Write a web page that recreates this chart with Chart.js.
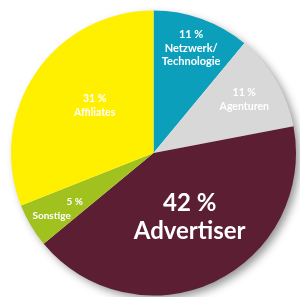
<!DOCTYPE html>
<html>
<head>
<meta charset="utf-8">
<script src="https://cdn.jsdelivr.net/npm/chart.js@4"></script>
<style>
    html, body { margin: 0; padding: 0; background: #ffffff; }
    #wrap { width: 300px; height: 297px; }
</style>
</head>
<body>
<div id="wrap"><canvas id="pie"></canvas></div>
<script>
// data
const segments = ["Netzwerk/Technologie", "Agenturen", "Advertiser", "Sonstige", "Affiliates"];
const shares = [11, 11, 42, 5, 31];
const nameLines = [["Netzwerk/", "Technologie"], ["Agenturen"], ["Advertiser"], ["Sonstige"], ["Affiliates"]];

// styling
const colors = ["#0c9fbb", "#d8d8d8", "#5b1e32", "#a1c11e", "#fff000"];
const labelDist = [0.78, 0.74, 0.52, 0.79, 0.53];
const labelTurn = [0, 0, -4, 1, 4.6];   // degrees, nudges the label off the slice middle
const labelSize = [11, 10.5, 24, 10, 10.5];
const lineGap = [13.5, 14, 28, 14, 13.5];
const lineDx = [[0, 0, 0], [0, 0], [0, 0], [19, -4], [0, 0]];

// shadow under the whole pie
const pieShadow = {
    id: "pieShadow",
    beforeDatasetsDraw(chart) {
        const arc = chart.getDatasetMeta(0).data[0];
        if (!arc) return;
        const ctx = chart.ctx;
        ctx.save();
        ctx.shadowColor = "rgba(0,0,0,0.42)";
        ctx.shadowBlur = 9;
        ctx.shadowOffsetX = 4;
        ctx.shadowOffsetY = 4;
        ctx.fillStyle = "#ffffff";
        ctx.beginPath();
        ctx.arc(arc.x, arc.y, arc.outerRadius - 0.5, 0, Math.PI * 2);
        ctx.fill();
        ctx.restore();
    }
};

// text inside slices
const sliceLabels = {
    id: "sliceLabels",
    afterDatasetsDraw(chart) {
        const ctx = chart.ctx;
        chart.getDatasetMeta(0).data.forEach((arc, i) => {
            const mid = (arc.startAngle + arc.endAngle) / 2 + labelTurn[i] * Math.PI / 180;
            const r = arc.outerRadius * labelDist[i];
            const cx = arc.x + Math.cos(mid) * r;
            const cy = arc.y + Math.sin(mid) * r;
            const lines = [shares[i] + " %"].concat(nameLines[i]);
            const top = cy - (lines.length - 1) * lineGap[i] / 2;
            ctx.save();
            ctx.fillStyle = "#ffffff";
            ctx.textAlign = "center";
            ctx.textBaseline = "middle";
            ctx.font = "bold " + labelSize[i] + "px Lato, 'Open Sans', sans-serif";
            lines.forEach((t, j) => {
                ctx.fillText(t, cx + lineDx[i][j], top + j * lineGap[i]);
            });
            ctx.restore();
        });
    }
};

new Chart(document.getElementById("pie"), {
    type: "pie",
    data: {
        labels: segments,
        datasets: [{
            data: shares,
            backgroundColor: colors,
            borderWidth: 0
        }]
    },
    options: {
        responsive: true,
        maintainAspectRatio: false,
        animation: false,
        layout: { padding: { left: 11, right: 4, top: 10, bottom: 1 } },
        plugins: {
            legend: { display: false },
            tooltip: { enabled: false }
        }
    },
    plugins: [pieShadow, sliceLabels]
});
</script>
</body>
</html>
